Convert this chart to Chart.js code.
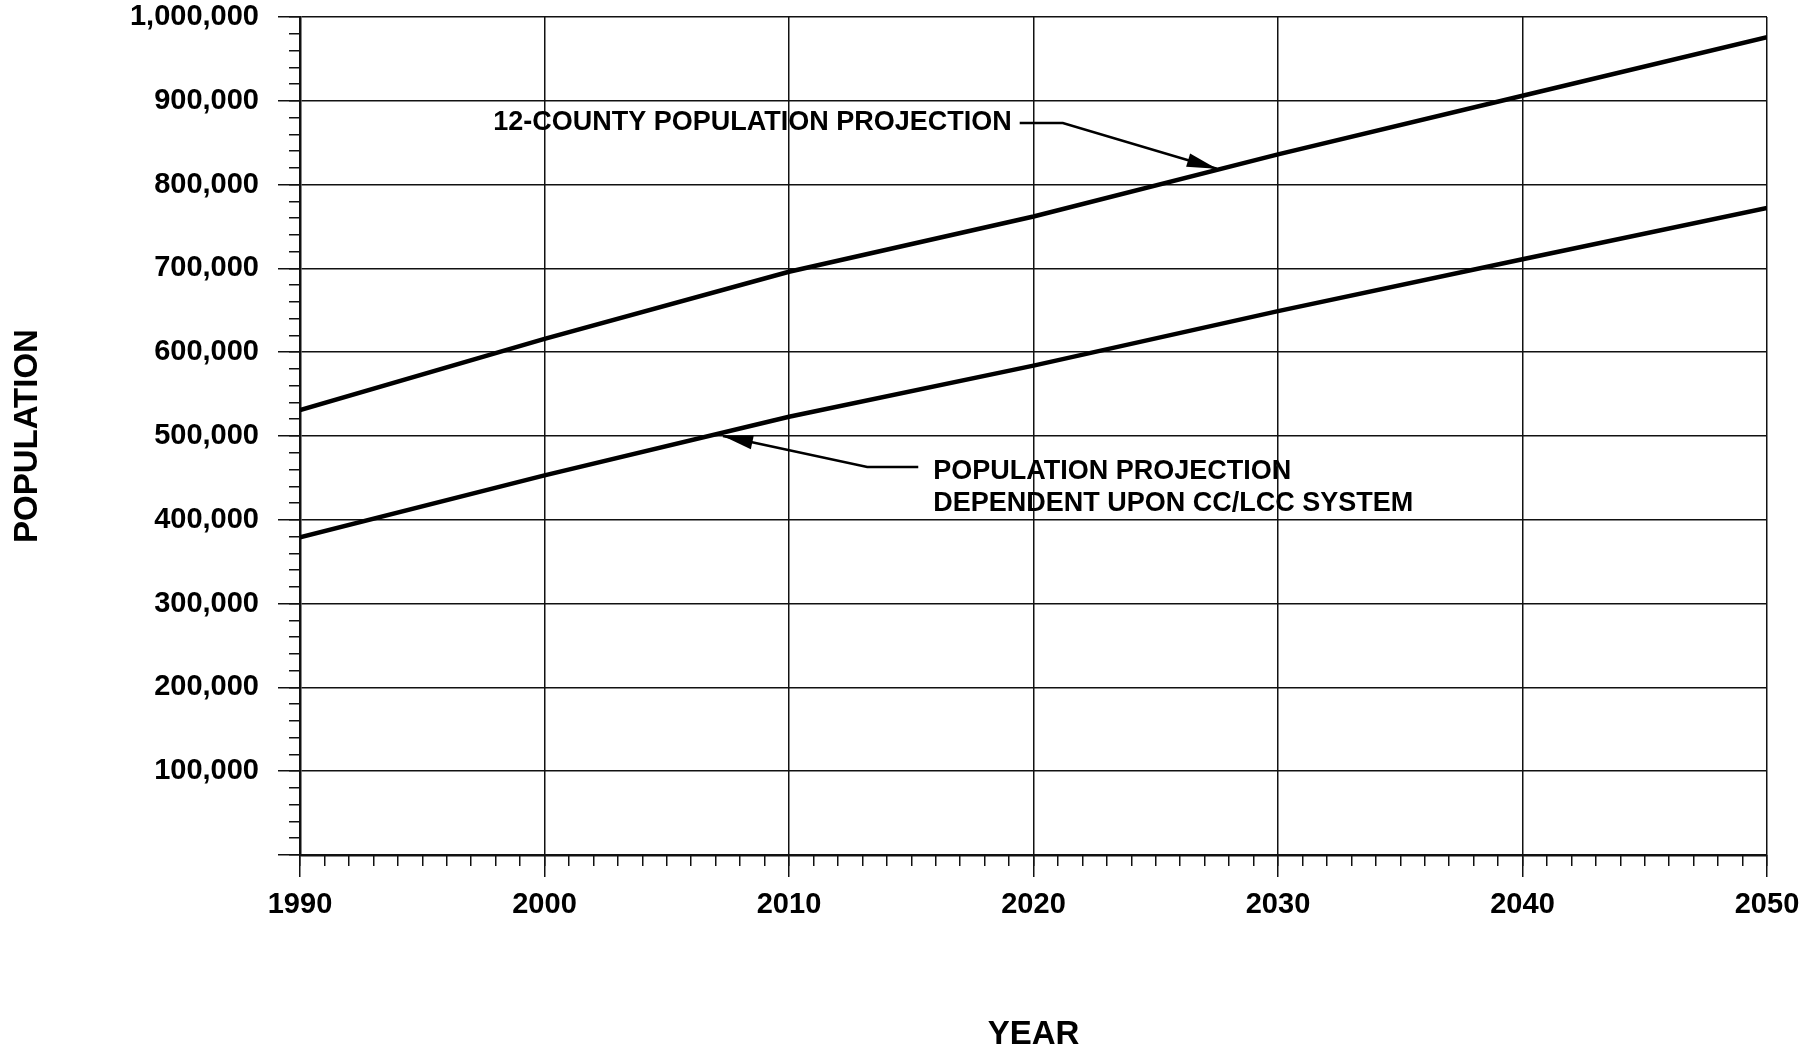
<!DOCTYPE html>
<html>
<head>
<meta charset="utf-8">
<script src="https://cdn.jsdelivr.net/npm/chart.js@4"></script>
<style>
  html, body { margin: 0; padding: 0; background: #fff; }
  #wrap { width: 1818px; height: 1051px; position: relative; }
</style>
</head>
<body>
<div id="wrap"><canvas id="chart"></canvas></div>
<script>
// data
const years        = [1990, 2000, 2010, 2020, 2030, 2040, 2050];
const countyPop    = [531000, 616000, 696000, 762000, 836000, 906000, 976000];
const dependentPop = [379000, 453000, 523000, 584000, 649000, 711000, 772000];

const FONT = '"Liberation Sans", Arial, Helvetica, sans-serif';
const INK  = "#111";

// callouts, placed in data units (year, population)
const notes = [
  {
    lines: ["12-COUNTY POPULATION PROJECTION"],
    at: [1997.9, 873500],
    side: "right",
    bend: [2021.2, 873500],
    tip:  [2027.5, 819000],
  },
  {
    lines: ["POPULATION PROJECTION", "DEPENDENT UPON CC/LCC SYSTEM"],
    at: [2015.9, 458000],
    side: "left",
    bend: [2013.2, 463000],
    tip:  [2007.3, 500000],
  },
];

function arrowHead(ctx, fx, fy, tx, ty, len, w) {
  const dx = tx - fx, dy = ty - fy;
  const d = Math.hypot(dx, dy);
  const ux = dx / d, uy = dy / d;
  const bx = tx - ux * len, by = ty - uy * len;
  ctx.beginPath();
  ctx.moveTo(tx, ty);
  ctx.lineTo(bx - uy * w / 2, by + ux * w / 2);
  ctx.lineTo(bx + uy * w / 2, by - ux * w / 2);
  ctx.closePath();
  ctx.fill();
}

const calloutPlugin = {
  id: "callouts",
  afterDatasetsDraw(chart) {
    const { ctx, scales } = chart;
    const px = v => scales.x.getPixelForValue(v);
    const py = v => scales.y.getPixelForValue(v);
    ctx.save();
    ctx.fillStyle = "#000";
    ctx.strokeStyle = "#000";
    ctx.font = "bold 27px " + FONT;
    ctx.textAlign = "left";
    ctx.textBaseline = "middle";
    notes.forEach(n => {
      const x0 = px(n.at[0]), y0 = py(n.at[1]);
      n.lines.forEach((t, i) => ctx.fillText(t, x0, y0 + i * 32));
      const w0 = ctx.measureText(n.lines[0]).width;
      const sx = n.side === "right" ? x0 + w0 + 8 : x0 - 15;
      const bx = px(n.bend[0]), by = py(n.bend[1]);
      const tx = px(n.tip[0]),  ty = py(n.tip[1]);
      ctx.lineWidth = 2.5;
      ctx.beginPath();
      ctx.moveTo(sx, by);
      ctx.lineTo(bx, by);
      ctx.lineTo(tx, ty);
      ctx.stroke();
      arrowHead(ctx, bx, by, tx, ty, 30, 14);
    });
    ctx.restore();
  },
};

const tickFont = { family: FONT, size: 29, weight: "bold" };
const titleFont = { family: FONT, size: 33, weight: "bold" };

new Chart(document.getElementById("chart"), {
  type: "line",
  data: {
    datasets: [
      {
        label: "12-County Population Projection",
        data: years.map((x, i) => ({ x, y: countyPop[i] })),
        borderColor: "#000",
        borderWidth: 4.5,
        pointRadius: 0,
        tension: 0,
        fill: false,
        xAxisID: "x",
        yAxisID: "y",
      },
      {
        label: "Population Projection Dependent upon CC/LCC System",
        data: years.map((x, i) => ({ x, y: dependentPop[i] })),
        borderColor: "#000",
        borderWidth: 4.5,
        pointRadius: 0,
        tension: 0,
        fill: false,
        xAxisID: "x",
        yAxisID: "y",
      },
    ],
  },
  options: {
    responsive: true,
    maintainAspectRatio: false,
    animation: false,
    layout: { padding: { top: 17, right: 51, left: 0, bottom: 0 } },
    plugins: {
      legend: { display: false },
      tooltip: { enabled: false },
    },
    scales: {
      x: {
        type: "linear",
        position: "bottom",
        weight: 1,
        min: 1990,
        max: 2050,
        ticks: {
          stepSize: 10,
          autoSkip: false,
          maxRotation: 0,
          color: "#000",
          font: tickFont,
          padding: 11,
          callback: v => String(v),
        },
        grid: { color: INK, lineWidth: 1.5, tickLength: 22 },
        border: { color: INK, width: 2.5 },
        title: {
          display: true, text: "YEAR", color: "#000", font: titleFont,
          padding: { top: 0, bottom: -4 },
        },
        afterFit: s => { s.height = 196; },
      },
      xMinor: {
        type: "linear",
        position: "bottom",
        weight: 0,
        min: 1990,
        max: 2050,
        ticks: { stepSize: 1, display: false, autoSkip: false, maxTicksLimit: 100 },
        grid: { drawOnChartArea: false, color: INK, lineWidth: 1.5, tickLength: 11 },
        border: { display: false },
        afterFit: s => { s.height = 0; },
      },
      y: {
        position: "left",
        weight: 1,
        min: 0,
        max: 1000000,
        ticks: {
          stepSize: 100000,
          color: "#000",
          font: tickFont,
          padding: 19,
          callback: v => (v === 0 ? "" : v.toLocaleString("en-US")),
        },
        grid: { color: INK, lineWidth: 1.5, tickLength: 22 },
        border: { color: INK, width: 2.5 },
        title: {
          display: true, text: "POPULATION", color: "#000", font: titleFont,
          padding: { top: 8, bottom: 0 },
        },
        afterFit: s => { s.width = 300; s.paddingTop = 0; s.paddingBottom = 0; },
      },
      yMinor: {
        position: "left",
        weight: 0,
        min: 0,
        max: 1000000,
        ticks: { stepSize: 20000, display: false, autoSkip: false, maxTicksLimit: 100 },
        grid: { drawOnChartArea: false, color: INK, lineWidth: 1.5, tickLength: 11 },
        border: { display: false },
        afterFit: s => { s.width = 0; s.paddingTop = 0; s.paddingBottom = 0; },
      },
    },
  },
  plugins: [calloutPlugin],
});
</script>
</body>
</html>
